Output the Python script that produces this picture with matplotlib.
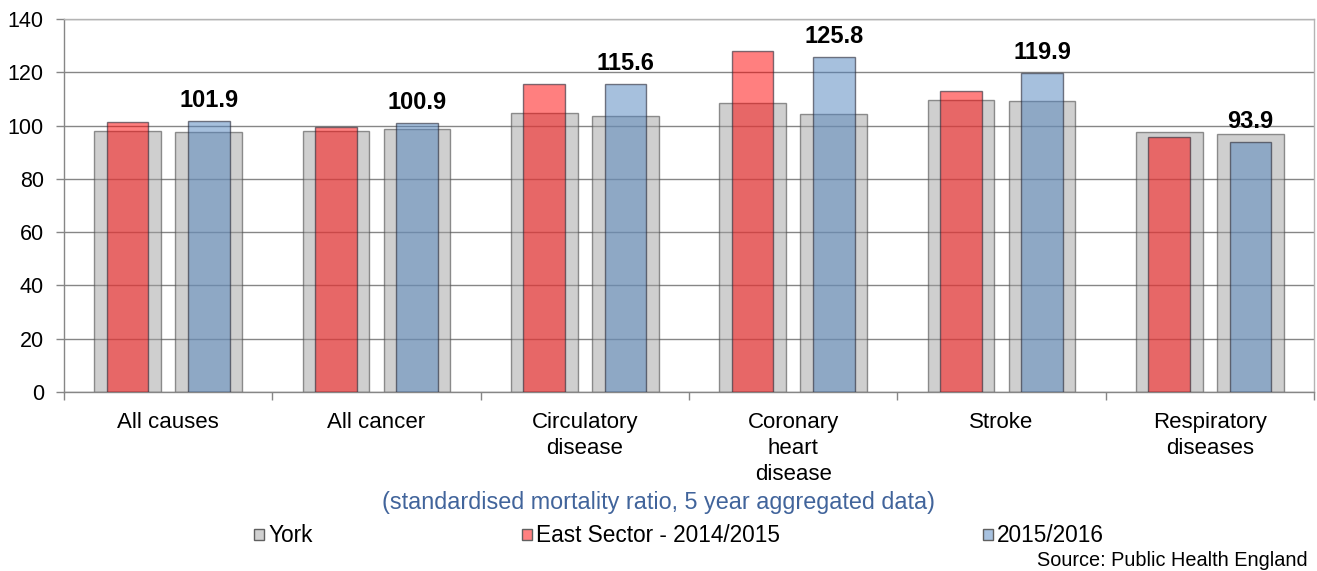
import numpy as np
import matplotlib
matplotlib.use('Agg')
import matplotlib.pyplot as plt
from matplotlib.patches import Patch

plt.rcParams['font.family'] = ['Liberation Sans', 'DejaVu Sans']

# datos
categorias = ['All causes', 'All cancer', 'Circulatory\ndisease', 'Coronary\nheart\ndisease',
              'Stroke', 'Respiratory\ndiseases']
york_1415 = [98.1, 97.9, 104.8, 108.3, 109.5, 97.6]
york_1516 = [97.5, 98.9, 103.5, 104.3, 109.1, 97.0]
east_1415 = [101.4, 99.5, 115.5, 127.9, 113.1, 95.8]
east_1516 = [101.9, 100.9, 115.6, 125.8, 119.9, 93.9]
yticks = [0, 20, 40, 60, 80, 100, 120, 140]

gris = (0.63, 0.63, 0.63, 0.5)
rojo = (1.0, 0.0, 0.0, 0.5)
azul = (0.31, 0.51, 0.74, 0.5)
borde_gris = (0.3, 0.3, 0.3, 0.6)
borde_color = (0.15, 0.15, 0.2, 0.6)

fig = plt.figure(figsize=(13.17, 5.71), dpi=100)
ax = fig.add_axes([64/1317, 1 - 392/571, 1250/1317, 373/571])

x = np.arange(len(categorias))
off = 0.195
ax.bar(x - off, york_1415, width=0.32, color=gris, edgecolor=borde_gris, linewidth=1.0, zorder=2)
ax.bar(x + off, york_1516, width=0.32, color=gris, edgecolor=borde_gris, linewidth=1.0, zorder=2)
ax.bar(x - off, east_1415, width=0.2, color=rojo, edgecolor=borde_color, linewidth=1.0, zorder=3)
ax.bar(x + off, east_1516, width=0.2, color=azul, edgecolor=borde_color, linewidth=1.0, zorder=3)

# etiquetas sobre las barras azules
for xi, v in zip(x, east_1516):
    ax.annotate('%.1f' % v, (xi + off, v), xytext=(0, 10), textcoords='offset points',
                ha='center', va='baseline', fontsize=17, fontweight='bold', zorder=5)

ax.set_xlim(-0.5, len(categorias) - 0.5)
ax.set_ylim(0, 140)
ax.set_yticks(yticks)
ax.set_xticks(x)
ax.set_xticklabels(categorias, fontsize=16, linespacing=1.3)
ax.set_xticks(np.arange(len(categorias) + 1) - 0.5, minor=True)
ax.tick_params(axis='x', which='major', length=0, pad=14.5)
ax.tick_params(axis='x', which='minor', length=6, color='#868686', width=1)
ax.tick_params(axis='y', length=6, color='#868686', width=1, pad=8.5, labelsize=15.5)
ax.grid(axis='y', color='#868686', linewidth=1.0, zorder=0)
ax.set_axisbelow(True)

for s in ['left', 'bottom']:
    ax.spines[s].set_color('#868686')
    ax.spines[s].set_linewidth(1.0)
for s in ['top', 'right']:
    ax.spines[s].set_color('#b4b4b4')
    ax.spines[s].set_linewidth(1.0)

fig.text(0.5, 1 - 502/571, '(standardised mortality ratio, 5 year aggregated data)',
         ha='center', va='center', fontsize=16.8, color='#41649b')

# leyenda, una entrada por posición
entradas = [('York', (0.82, 0.82, 0.82), 254),
            ('East Sector - 2014/2015', (1.0, 0.5, 0.5), 522),
            ('2015/2016', (0.66, 0.76, 0.88), 983)]
for nombre, col, px in entradas:
    h = Patch(facecolor=col, edgecolor='#606060', linewidth=1.0)
    fig.legend([h], [nombre], loc='center left', bbox_to_anchor=(px/1317, 1 - 536/571),
               frameon=False, fontsize=16.3, handlelength=0.42, handleheight=0.42,
               handletextpad=0.2, borderpad=0, borderaxespad=0)

fig.text(1308/1317, 1 - 561/571, 'Source: Public Health England', ha='right', va='center',
         fontsize=14.3)

fig.savefig('out.png', dpi=100)
